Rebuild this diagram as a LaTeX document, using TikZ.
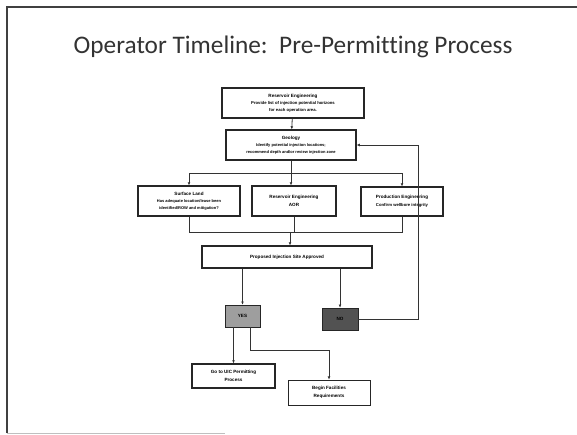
\documentclass[tikz,border=0pt]{standalone}
\usepackage{fontspec}
\setmainfont{Liberation Sans}
\newfontfamily\titlefont[Ligatures=NoCommon]{Carlito}
\usetikzlibrary{arrows.meta}
\tikzset{
  flowbox/.style={draw=black!85, line width=1.1pt, fill=white, align=center,
    font=\fontsize{4.6}{6.4}\selectfont\bfseries, inner sep=0pt},
  link/.style={draw=black!80, line width=0.8pt},
  arr/.style={link, -{Latex[length=3.2pt,width=2.8pt]}},
}
\begin{document}
\begin{tikzpicture}[x=1pt,y=-1pt]
\useasboundingbox (0,0) rectangle (577,434);
% slide frame
\draw[black!75, line width=1.6pt] (7,433) -- (7,7) -- (577,7);
\draw[black!25, line width=0.8pt] (7,433) -- (225,433);
% title
\node[font=\titlefont\fontsize{25.3}{28}\selectfont, text=black!80] (title) at (293,47)
  {Operator Timeline:\ \ Pre-Permitting Process};

% boxes
\node[flowbox, minimum width=142pt, minimum height=30pt] (res) at (293,103)
  {Reservoir Engineering\\[1pt]\fontsize{4.2}{6}\selectfont Provide list of injection potential horizons\\\fontsize{4.2}{6}\selectfont for each operation area.};
\node[flowbox, minimum width=130pt, minimum height=30pt] (geo) at (291,145)
  {Geology\\[1pt]\fontsize{4}{6}\selectfont Identify potential injection locations;\\\fontsize{4}{6}\selectfont recommend depth and/or review injection zone};
\node[flowbox, minimum width=102pt, minimum height=30pt] (land) at (189,201)
  {Surface Land\\[1pt]\fontsize{4}{6}\selectfont Has adequate location/lease been\\\fontsize{4}{6}\selectfont identified/ROW and mitigation?};
\node[flowbox, minimum width=84pt, minimum height=30pt] (aor) at (294,201)
  {Reservoir Engineering\\[2pt]AOR};
\node[flowbox, minimum width=82pt, minimum height=29pt] (prod) at (402,201.5)
  {Production Engineering\\[2pt]\fontsize{4.2}{6}\selectfont Confirm wellbore integrity};
\node[flowbox, minimum width=170pt, minimum height=22pt] (prop) at (287,257)
  {Proposed Injection Site Approved};
\node[flowbox, fill=black!38, minimum width=35pt, minimum height=22pt, line width=0.6pt] (yes) at (242.5,316)
  {YES};
\node[flowbox, fill=black!68, minimum width=36pt, minimum height=22pt, line width=0.6pt] (no) at (340,319)
  {NO};
\node[flowbox, minimum width=83pt, minimum height=24pt] (uic) at (233.5,376)
  {Go to UIC Permitting\\[2pt]Process};
\node[flowbox, minimum width=82pt, minimum height=25pt, line width=0.7pt] (fac) at (329,392.5)
  {Begin Facilities\\[2pt]Requirements};

% connectors
\coordinate (split) at (291,173);
\coordinate (merge) at (290,232);
\draw[arr] (res) -- (geo);
\draw[link] (geo) -- (split);
\draw[arr] (split) -| (land.north);
\draw[arr] (split) -- (split |- aor.north);
\draw[arr] (split) -| (prod.north);
\draw[link] (land.south) |- (merge);
\draw[link] (prod.south) |- (merge);
\draw[link] (aor.south) -- (aor.south |- merge);
\draw[arr] (merge) -- (merge |- prop.north);
\draw[arr] (prop.south -| yes.north) -- (yes.north);
\draw[arr] (prop.south -| no.north) -- (no.north);
\coordinate (loop) at (418,320);
\draw[arr] (no.east) -- (no.east -| loop) -- (loop |- geo.east) -- (geo.east);
\draw[arr] ([xshift=-9pt]yes.south) -- ([xshift=-9pt]yes.south |- uic.north);
\coordinate (bend) at (250,350);
\draw[arr] ([xshift=7.5pt]yes.south) |- (fac.north |- bend) -- (fac.north);
\end{tikzpicture}
\end{document}
